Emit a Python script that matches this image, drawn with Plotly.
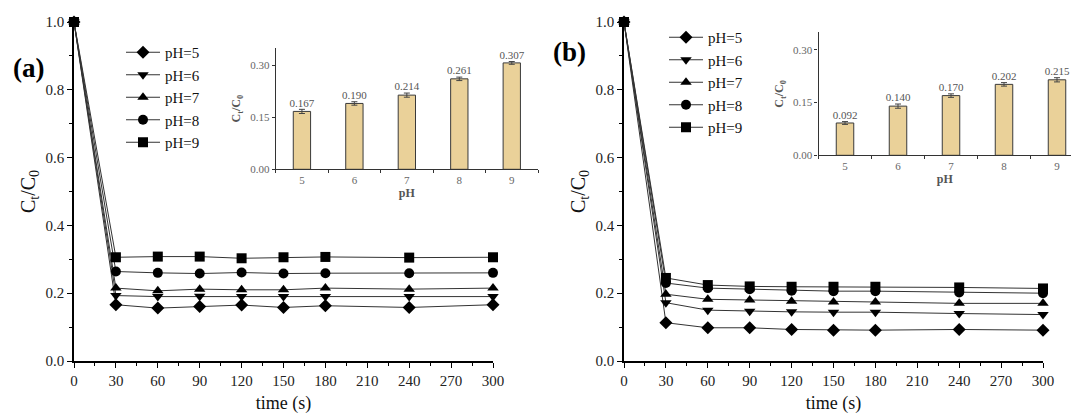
import plotly.graph_objects as go

# ---------------- data ----------------
time_s = [0, 30, 60, 90, 120, 150, 180, 240, 300]
ph_labels = ["pH=5", "pH=6", "pH=7", "pH=8", "pH=9"]
symbols = ["diamond", "triangle-down", "triangle-up", "circle", "square"]

a_ph5 = [1.0, 0.166, 0.156, 0.161, 0.165, 0.158, 0.163, 0.158, 0.166]
a_ph6 = [1.0, 0.193, 0.190, 0.191, 0.190, 0.190, 0.190, 0.190, 0.190]
a_ph7 = [1.0, 0.215, 0.207, 0.212, 0.210, 0.210, 0.215, 0.212, 0.215]
a_ph8 = [1.0, 0.264, 0.260, 0.258, 0.261, 0.258, 0.259, 0.259, 0.260]
a_ph9 = [1.0, 0.306, 0.308, 0.308, 0.303, 0.306, 0.307, 0.305, 0.306]

b_ph5 = [1.0, 0.113, 0.098, 0.098, 0.093, 0.091, 0.091, 0.093, 0.091]
b_ph6 = [1.0, 0.172, 0.150, 0.147, 0.145, 0.144, 0.144, 0.140, 0.137]
b_ph7 = [1.0, 0.197, 0.182, 0.180, 0.176, 0.174, 0.174, 0.170, 0.170]
b_ph8 = [1.0, 0.230, 0.215, 0.212, 0.207, 0.206, 0.206, 0.202, 0.200]
b_ph9 = [1.0, 0.245, 0.224, 0.220, 0.219, 0.219, 0.219, 0.217, 0.214]

inset_ph = ["5", "6", "7", "8", "9"]
inset_a = [0.167, 0.190, 0.214, 0.261, 0.307]
inset_a_err = [0.006, 0.005, 0.006, 0.005, 0.004]
inset_b = [0.092, 0.140, 0.170, 0.202, 0.215]
inset_b_err = [0.004, 0.006, 0.005, 0.005, 0.006]

W, H = 1071, 414
SERIF = "Liberation Serif"

fig = go.Figure()

series_a = [a_ph5, a_ph6, a_ph7, a_ph8, a_ph9]
series_b = [b_ph5, b_ph6, b_ph7, b_ph8, b_ph9]

for i, ys in enumerate(series_a):
    fig.add_trace(go.Scatter(
        x=time_s, y=ys, name=ph_labels[i], mode="lines+markers",
        line=dict(color="#333333", width=1),
        marker=dict(symbol=symbols[i], size=10, color="black"),
        xaxis="x", yaxis="y", legend="legend", cliponaxis=False))

for i, ys in enumerate(series_b):
    fig.add_trace(go.Scatter(
        x=time_s, y=ys, name=ph_labels[i], mode="lines+markers",
        line=dict(color="#333333", width=1),
        marker=dict(symbol=symbols[i], size=10, color="black"),
        xaxis="x2", yaxis="y2", legend="legend2", cliponaxis=False))

BAR_FILL = "#EAD199"
for vals, errs, xa, ya in [(inset_a, inset_a_err, "x3", "y3"),
                           (inset_b, inset_b_err, "x4", "y4")]:
    fig.add_trace(go.Bar(
        x=inset_ph, y=vals, width=0.33,
        marker=dict(color=BAR_FILL, line=dict(color="#3a3a3a", width=1)),
        error_y=dict(type="data", array=errs, color="#444444", thickness=1, width=3),
        xaxis=xa, yaxis=ya, showlegend=False))
    fig.add_trace(go.Scatter(
        x=inset_ph, y=[v + e for v, e in zip(vals, errs)],
        mode="text", text=[f"{v:.3f}" for v in vals],
        textposition="top center",
        textfont=dict(family=SERIF, size=11, color="#555555"),
        xaxis=xa, yaxis=ya, showlegend=False, cliponaxis=False))


def px_x(p):
    return p / W


def px_y(p):
    return 1 - p / H


main_x = dict(
    range=[0, 300], dtick=30, tick0=0, showline=True, linecolor="black", linewidth=1.5,
    ticks="outside", ticklen=5, tickwidth=1.2, tickcolor="black",
    minor=dict(dtick=15, ticks="outside", ticklen=3, tickcolor="black"),
    showgrid=False, zeroline=False, automargin=False,
    tickfont=dict(family=SERIF, size=15, color="#222222"),
    title=dict(text="time (s)", font=dict(family=SERIF, size=18, color="#111111"), standoff=11),
)
main_y = dict(
    range=[0, 1.0], dtick=0.2, tickformat=".1f", showline=True, linecolor="black", linewidth=1.5,
    ticks="outside", ticklen=5, tickwidth=1.2, tickcolor="black",
    minor=dict(dtick=0.1, ticks="outside", ticklen=3, tickcolor="black"),
    showgrid=False, zeroline=False, automargin=False,
    tickfont=dict(family=SERIF, size=15, color="#222222"),
    title=dict(text="C<sub>t</sub>/C<sub>0</sub>", font=dict(family=SERIF, size=20, color="#111111"), standoff=5),
)

inset_x = dict(
    type="category", showline=True, linecolor="#333333", linewidth=1.2,
    ticks="outside", tickson="boundaries", ticklen=3, tickcolor="#333333",
    showgrid=False, zeroline=False, automargin=False,
    tickfont=dict(family=SERIF, size=11, color="#666666"),
    title=dict(text="<b>pH</b>", font=dict(family=SERIF, size=12, color="#555555"), standoff=0),
)
inset_y = dict(
    range=[0, 0.35], tickvals=[0, 0.15, 0.30], tickformat=".2f", showline=True,
    linecolor="#333333", linewidth=1.2, ticks="outside", ticklen=3, tickcolor="#333333",
    showgrid=False, zeroline=False, automargin=False,
    tickfont=dict(family=SERIF, size=11, color="#666666"),
    title=dict(text="<b>C<sub>t</sub>/C<sub>0</sub></b>", font=dict(family=SERIF, size=12, color="#555555"), standoff=6),
)

y_dom = [px_y(361), px_y(22)]

fig.update_layout(
    width=W, height=H,
    margin=dict(l=0, r=0, t=0, b=0, autoexpand=False),
    paper_bgcolor="white", plot_bgcolor="rgba(0,0,0,0)",
    xaxis=dict(main_x, domain=[px_x(74), px_x(493)], anchor="y"),
    yaxis=dict(main_y, domain=y_dom, anchor="x"),
    xaxis2=dict(main_x, domain=[px_x(624), px_x(1043)], anchor="y2"),
    yaxis2=dict(main_y, domain=y_dom, anchor="x2"),
    xaxis3=dict(inset_x, domain=[px_x(275.7), px_x(538)], anchor="y3", range=[-0.5, 4.5]),
    yaxis3=dict(inset_y, domain=[px_y(169.3), px_y(48)], anchor="x3"),
    xaxis4=dict(inset_x, domain=[px_x(818.5), 1.0], anchor="y4", range=[-0.5, 4.264]),
    yaxis4=dict(inset_y, domain=[px_y(155.3), px_y(32.4)], anchor="x4"),
    legend=dict(x=px_x(121), y=px_y(36), xanchor="left", yanchor="top",
                bgcolor="rgba(0,0,0,0)", borderwidth=0, itemwidth=34,
                font=dict(family=SERIF, size=15, color="#111111"), tracegroupgap=0),
    legend2=dict(x=px_x(664), y=px_y(21), xanchor="left", yanchor="top",
                 bgcolor="rgba(0,0,0,0)", borderwidth=0, itemwidth=34,
                 font=dict(family=SERIF, size=15, color="#111111"), tracegroupgap=0),
    annotations=[
        dict(text="<b>(a)</b>", x=px_x(28), y=px_y(68), xref="paper", yref="paper",
             xanchor="center", yanchor="middle",
             showarrow=False, font=dict(family=SERIF, size=27, color="black")),
        dict(text="<b>(b)</b>", x=px_x(569), y=px_y(52), xref="paper", yref="paper",
             xanchor="center", yanchor="middle",
             showarrow=False, font=dict(family=SERIF, size=27, color="black")),
    ],
)

fig.write_html("out.html", post_script="document.body.style.margin='0';",
               config={"displayModeBar": False})
